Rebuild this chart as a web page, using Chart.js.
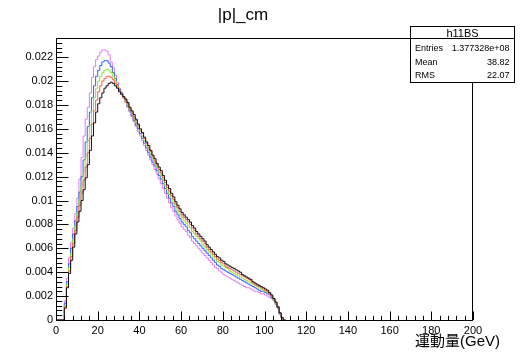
<!DOCTYPE html>
<html lang="ja">
<head>
<meta charset="UTF-8">
<title>|p|_cm</title>
<script src="https://cdn.jsdelivr.net/npm/chart.js"></script>
<style>
  html, body { margin: 0; padding: 0; background: #fff; }
  canvas { display: block; }
</style>
</head>
<body>
<canvas id="grafico" width="521" height="359" style="width:521px;height:359px"></canvas>
<script>
// histogram contents, 1 GeV bins starting at 0 GeV
const binWidth = 1;

const valoresPreto = [
  0,0,0,0,0.0010,0.0027,0.0039,0.0050,0.0061,0.0072,
  0.0082,0.0091,0.0100,0.0109,0.0119,0.0130,0.0142,0.0154,0.0165,0.0174,
  0.0181,0.0186,0.0190,0.0194,0.0196,0.0198,0.0199,0.0198,0.0196,0.0194,
  0.0191,0.0189,0.0187,0.0185,0.0182,0.0178,0.0175,0.0172,0.0168,0.0164,
  0.0160,0.0157,0.0153,0.0149,0.0146,0.0142,0.0138,0.0135,0.0131,0.0128,
  0.0125,0.0121,0.0117,0.0113,0.0110,0.0106,0.0103,0.0099,0.0096,0.0093,
  0.0090,0.0088,0.0086,0.0084,0.0082,0.0079,0.0077,0.0074,0.0072,0.0070,
  0.0068,0.0066,0.0063,0.0061,0.0059,0.0057,0.0055,0.0053,0.0052,0.0050,
  0.0049,0.0047,0.0046,0.0045,0.0044,0.0043,0.0042,0.0041,0.0040,0.0038,
  0.0037,0.0036,0.0035,0.0034,0.0032,0.0031,0.0030,0.0029,0.0028,0.0027,
  0.0026,0.0025,0.0023,0.0021,0.0018,0.0015,0.0011,0.0006,0.0002,0
];

const valoresVermelho = [
  0,0,0,0,0.0011,0.0028,0.0041,0.0053,0.0064,0.0075,
  0.0086,0.0096,0.0106,0.0117,0.0128,0.0140,0.0152,0.0164,0.0175,0.0184,
  0.0191,0.0196,0.0200,0.0202,0.0204,0.0204,0.0203,0.0201,0.0198,0.0195,
  0.0192,0.0189,0.0186,0.0184,0.0181,0.0177,0.0174,0.0170,0.0167,0.0163,
  0.0159,0.0156,0.0152,0.0148,0.0144,0.0141,0.0137,0.0133,0.0130,0.0126,
  0.0123,0.0119,0.0115,0.0111,0.0108,0.0104,0.0101,0.0097,0.0094,0.0091,
  0.0088,0.0086,0.0084,0.0082,0.0080,0.0077,0.0075,0.0072,0.0070,0.0068,
  0.0066,0.0064,0.0061,0.0059,0.0057,0.0055,0.0053,0.0051,0.0050,0.0048,
  0.0047,0.0045,0.0044,0.0043,0.0042,0.0041,0.0040,0.0039,0.0038,0.0037,
  0.0036,0.0035,0.0034,0.0033,0.0031,0.0030,0.0029,0.0028,0.0027,0.0026,
  0.0025,0.0024,0.0022,0.0020,0.0018,0.0015,0.0011,0.0006,0.0002,0
];

const valoresVerde = [
  0,0,0,0,0.0012,0.0030,0.0044,0.0056,0.0068,0.0079,
  0.0090,0.0101,0.0112,0.0124,0.0137,0.0150,0.0163,0.0175,0.0186,0.0194,
  0.0200,0.0204,0.0207,0.0209,0.0210,0.0209,0.0207,0.0204,0.0200,0.0196,
  0.0192,0.0189,0.0186,0.0183,0.0180,0.0176,0.0173,0.0169,0.0165,0.0162,
  0.0158,0.0154,0.0150,0.0146,0.0143,0.0139,0.0135,0.0131,0.0128,0.0124,
  0.0121,0.0117,0.0113,0.0109,0.0105,0.0102,0.0098,0.0095,0.0091,0.0088,
  0.0086,0.0083,0.0081,0.0079,0.0077,0.0074,0.0072,0.0070,0.0068,0.0066,
  0.0063,0.0061,0.0059,0.0057,0.0055,0.0053,0.0051,0.0049,0.0048,0.0046,
  0.0045,0.0044,0.0043,0.0041,0.0040,0.0039,0.0038,0.0037,0.0036,0.0035,
  0.0034,0.0033,0.0032,0.0031,0.0030,0.0029,0.0028,0.0027,0.0026,0.0025,
  0.0024,0.0023,0.0022,0.0020,0.0017,0.0014,0.0011,0.0006,0.0002,0
];

const valoresAzul = [
  0,0,0,0,0.0014,0.0032,0.0047,0.0060,0.0072,0.0083,
  0.0095,0.0107,0.0120,0.0134,0.0149,0.0162,0.0174,0.0186,0.0196,0.0204,
  0.0209,0.0213,0.0216,0.0217,0.0217,0.0215,0.0212,0.0207,0.0202,0.0197,
  0.0193,0.0190,0.0186,0.0183,0.0179,0.0175,0.0171,0.0167,0.0163,0.0160,
  0.0156,0.0152,0.0148,0.0144,0.0140,0.0136,0.0132,0.0129,0.0125,0.0121,
  0.0118,0.0114,0.0110,0.0106,0.0102,0.0098,0.0095,0.0091,0.0088,0.0085,
  0.0082,0.0080,0.0078,0.0075,0.0073,0.0070,0.0068,0.0066,0.0064,0.0062,
  0.0060,0.0058,0.0056,0.0054,0.0052,0.0050,0.0048,0.0046,0.0045,0.0043,
  0.0042,0.0041,0.0040,0.0039,0.0038,0.0037,0.0036,0.0035,0.0034,0.0033,
  0.0032,0.0031,0.0030,0.0029,0.0028,0.0027,0.0026,0.0025,0.0024,0.0024,
  0.0023,0.0022,0.0021,0.0019,0.0017,0.0014,0.0010,0.0005,0.0002,0
];

const valoresRosa = [
  0,0,0,0,0.0016,0.0035,0.0052,0.0065,0.0077,0.0089,
  0.0102,0.0118,0.0136,0.0154,0.0168,0.0178,0.0190,0.0203,0.0212,0.0218,
  0.0221,0.0224,0.0226,0.0226,0.0225,0.0222,0.0216,0.0211,0.0205,0.0199,
  0.0194,0.0190,0.0186,0.0182,0.0178,0.0174,0.0170,0.0166,0.0162,0.0158,
  0.0154,0.0150,0.0146,0.0142,0.0138,0.0134,0.0130,0.0126,0.0122,0.0118,
  0.0114,0.0110,0.0106,0.0102,0.0098,0.0094,0.0091,0.0087,0.0084,0.0081,
  0.0078,0.0076,0.0074,0.0071,0.0069,0.0066,0.0064,0.0062,0.0060,0.0058,
  0.0056,0.0054,0.0052,0.0050,0.0048,0.0046,0.0044,0.0043,0.0041,0.0040,
  0.0038,0.0037,0.0036,0.0035,0.0034,0.0033,0.0032,0.0031,0.0030,0.0029,
  0.0028,0.0027,0.0027,0.0026,0.0025,0.0024,0.0024,0.0023,0.0022,0.0022,
  0.0021,0.0020,0.0019,0.0018,0.0016,0.0013,0.0010,0.0005,0.0002,0
];

// stats box
const tituloHist = 'h11BS';
const statsNomes = ['Entries', 'Mean', 'RMS'];
const statsValores = ['1.377328e+08', '38.82', '22.07'];

const titulo = '|p|_cm';
const tituloX = '運動量(GeV)';

const fonte = '"Liberation Sans", Arial, Helvetica, sans-serif';

function paraPontos(valores) {
  const pts = valores.map((v, i) => ({ x: i * binWidth, y: v }));
  pts.push({ x: valores.length * binWidth, y: 0 });
  return pts;
}

function serie(valores, cor) {
  return {
    data: paraPontos(valores),
    borderColor: cor,
    borderWidth: 1,
    stepped: 'before',
    pointRadius: 0,
    fill: false,
    tension: 0
  };
}

// ROOT style frame, inward ticks, title and stats box
const molduraRoot = {
  id: 'molduraRoot',
  afterDraw(chart) {
    const ctx = chart.ctx;
    const a = chart.chartArea;
    const sx = chart.scales.x, sy = chart.scales.y;
    ctx.save();
    ctx.strokeStyle = '#000';
    ctx.lineWidth = 1;

    // x ticks
    ctx.beginPath();
    for (let k = 0; k <= 50; k++) {
      const px = Math.round(sx.getPixelForValue(k * 4)) + 0.5;
      const len = k % 5 === 0 ? 8.5 : 4.2;
      ctx.moveTo(px, a.bottom);
      ctx.lineTo(px, a.bottom - len);
    }
    // y ticks
    for (let k = 0; k * 0.0004 <= sy.max + 1e-9; k++) {
      const py = Math.round(sy.getPixelForValue(k * 0.0004)) + 0.5;
      const len = k % 5 === 0 ? 12.5 : 6.3;
      ctx.moveTo(a.left, py);
      ctx.lineTo(a.left + len, py);
    }
    ctx.stroke();

    // frame
    ctx.strokeRect(Math.round(a.left) + 0.5, Math.round(a.top) + 0.5,
      Math.round(a.right - a.left) - 1, Math.round(a.bottom - a.top));

    // title
    ctx.fillStyle = '#000';
    ctx.font = '17px ' + fonte;
    ctx.textAlign = 'center';
    ctx.textBaseline = 'alphabetic';
    ctx.fillText(titulo, 243, 19.5);

    // x axis title
    ctx.font = '15px ' + fonte + ', "Noto Sans CJK JP"';
    ctx.textAlign = 'right';
    ctx.fillText(tituloX, 500, 346);

    // stats box
    ctx.fillStyle = '#fff';
    ctx.fillRect(410.5, 26.5, 104, 56);
    ctx.strokeRect(410.5, 26.5, 104, 56);
    ctx.beginPath();
    ctx.moveTo(410.5, 38.5);
    ctx.lineTo(514.5, 38.5);
    ctx.stroke();
    ctx.fillStyle = '#000';
    ctx.font = '11px ' + fonte;
    ctx.textAlign = 'center';
    ctx.fillText(tituloHist, 462.5, 36.5);
    ctx.font = '9px ' + fonte;
    const linhas = [51, 64.5, 78.3];
    statsNomes.forEach((nome, i) => {
      ctx.textAlign = 'left';
      ctx.fillText(nome, 415, linhas[i]);
      ctx.textAlign = 'right';
      ctx.fillText(statsValores[i], 509.5, linhas[i]);
    });
    ctx.restore();
  }
};

new Chart(document.getElementById('grafico'), {
  type: 'line',
  data: {
    datasets: [
      serie(valoresPreto, '#111111'),
      serie(valoresVermelho, '#ff5a5a'),
      serie(valoresVerde, '#8ae62e'),
      serie(valoresAzul, '#2f62ff'),
      serie(valoresRosa, '#e47cf6')
    ]
  },
  options: {
    responsive: false,
    animation: false,
    layout: { padding: { left: 0, top: 38, right: 48, bottom: 0 } },
    plugins: { legend: { display: false }, tooltip: { enabled: false }, title: { display: false } },
    scales: {
      x: {
        type: 'linear',
        min: 0,
        max: 200,
        grid: { display: false, drawTicks: false },
        border: { display: false },
        ticks: {
          stepSize: 20,
          padding: 4,
          maxRotation: 0,
          autoSkip: false,
          color: '#000',
          font: { family: fonte, size: 11 }
        },
        afterFit(s) { s.height = 39; }
      },
      y: {
        type: 'linear',
        min: 0,
        max: 0.0236,
        grid: { display: false, drawTicks: false },
        border: { display: false },
        ticks: {
          stepSize: 0.002,
          includeBounds: false,
          padding: 3,
          autoSkip: false,
          color: '#000',
          font: { family: fonte, size: 11 },
          callback: v => String(parseFloat(v.toFixed(4)))
        },
        afterFit(s) { s.width = 56; }
      }
    }
  },
  plugins: [molduraRoot]
});
</script>
</body>
</html>
